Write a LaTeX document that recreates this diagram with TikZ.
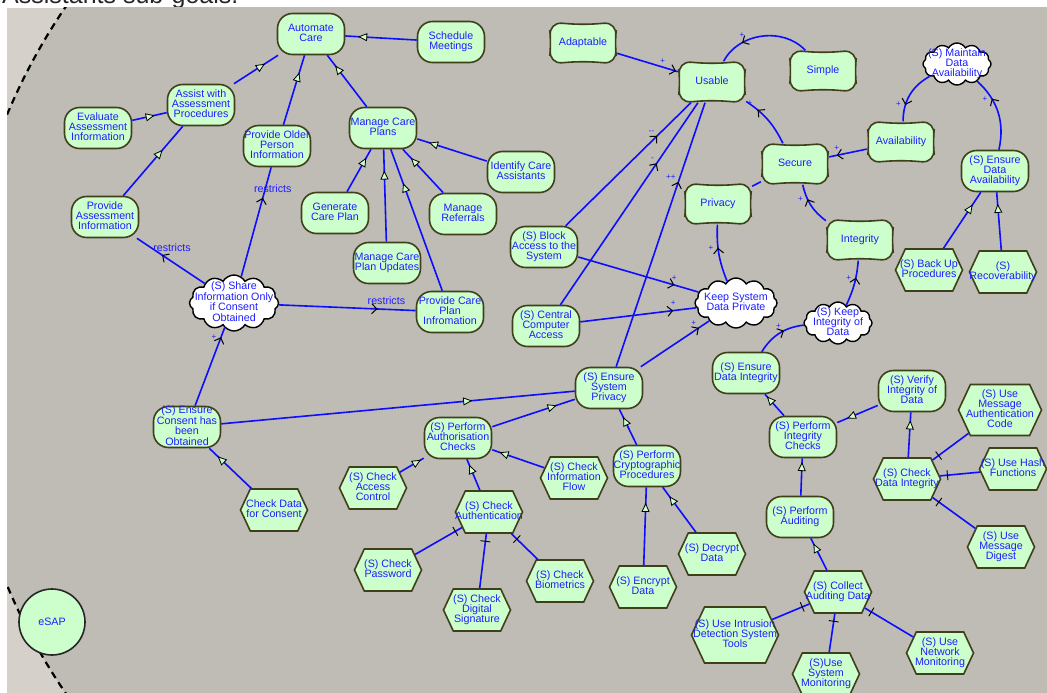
\documentclass[tikz,border=0pt]{standalone}
\usepackage{fontspec}
\setmainfont{Liberation Sans}
\usetikzlibrary{arrows.meta,shapes.symbols,decorations.markings,backgrounds}

\definecolor{panelgrey}{HTML}{BFBBB5}
\definecolor{outsidegrey}{HTML}{D5D1CA}
\definecolor{goalfill}{HTML}{CCFFCC}
\definecolor{goalline}{HTML}{3F3F1A}
\definecolor{linkblue}{HTML}{0D0DFF}
\definecolor{textblue}{HTML}{1E1EFF}

\newcommand{\elemfont}{\fontsize{10.7}{8.9}\selectfont}
\newcommand{\signfont}{\fontsize{8}{9}\selectfont}
% text of an element, centred and not widening the shape
\newcommand{\elemtext}[1]{\raisebox{-5.4pt}{\smash{\makebox[0pt]{\begin{tabular}{@{}c@{}}#1\end{tabular}}}}}

\tikzset{
	metri/.tip={Triangle[length=9pt,width=8pt,color=black,fill=goalfill,line width=0.8pt]},
	dbar/.tip={Bar[width=10pt,color=black,line width=0.9pt]},
	cbarb/.tip={Straight Barb[length=5pt,width=10pt,color=black,line width=1pt]},
	element/.style={draw=goalline, line width=1.6pt, fill=goalfill, inner sep=1pt, font=\elemfont, text=textblue},
	goal/.style={element, rectangle, rounded corners=15pt, minimum width=67pt, minimum height=41pt},
	task/.style={element, signal, signal to=east and west, signal pointer angle=130, minimum width=67pt, minimum height=42pt},
	softgoal/.style={rectangle, inner sep=1pt, minimum width=68pt, minimum height=41pt, font=\elemfont, text=textblue},
	sgframe/.style={draw=goalline, line width=1.6pt, fill=goalfill, rounded corners=13pt},
	cloudgoal/.style={cloud, cloud puffs=12, cloud puff arc=120, cloud ignores aspect, draw=black, line width=1.4pt, fill=white, inner sep=1pt, minimum width=68pt, minimum height=42pt, font=\elemfont, text=textblue},
	actor/.style={circle, draw=black!85, line width=1.6pt, fill=goalfill, minimum size=66pt, font=\elemfont, text=textblue},
	link/.style={draw=linkblue, line width=1.6pt},
	meansend/.style={link, postaction={decorate, decoration={markings, mark=at position #1 with {\arrow{metri}}}}},
	meansend/.default=0.8,
	decomp/.style={link, postaction={decorate, decoration={markings, mark=at position 8pt with {\arrow{dbar}}}}},
	contrib/.style={link, postaction={decorate, decoration={markings, mark=at position #1 with {\arrow{cbarb}}}}},
	contrib/.default=0.95,
	sign/.style={font=\signfont, text=textblue, inner sep=1pt},
	restricts/.style={font=\elemfont, text=textblue, inner sep=1pt},
}

\begin{document}
\begin{tikzpicture}[x=1pt, y=-1pt]
\useasboundingbox (0,0) rectangle (1047,693);

% canvas and actor boundary
\begin{scope}[on background layer]
	\node[anchor=base west, inner sep=0pt, font=\fontsize{25}{30}\selectfont, text=black!85] (caption) at (2,4) {Assistants sub-goals.};
	\fill[outsidegrey] (7,8) rectangle (1047,693);
	\begin{scope}
		\clip (7,8) rectangle (1047,693);
		\fill[panelgrey] (570,350) circle[radius=610pt];
		\draw[black, line width=2.2pt, dash pattern=on 7pt off 5pt] (570,350) circle[radius=610pt];
	\end{scope}
\end{scope}

\node[actor] (esap) at (52,622) {eSAP};

% goals
\node[goal] (automate) at (311,34) {\elemtext{Automate\\Care}};
\node[goal] (schedule) at (451,42) {\elemtext{Schedule\\Meetings}};
\node[goal] (assist) at (201,105) {\elemtext{Assist with\\Assessment\\Procedures}};
\node[goal] (evaluate) at (98,128) {\elemtext{Evaluate\\Assessment\\Information}};
\node[goal] (olderinfo) at (277,146) {\elemtext{Provide Older\\Person\\Information}};
\node[goal] (manageplans) at (383,128) {\elemtext{Manage Care\\Plans}};
\node[goal] (identify) at (521,172) {\elemtext{Identify Care\\Assistants}};
\node[goal] (generate) at (335,213) {\elemtext{Generate\\Care Plan}};
\node[goal] (referrals) at (463,214) {\elemtext{Manage\\Referrals}};
\node[goal] (provideassess) at (105,217) {\elemtext{Provide\\Assessment\\Information}};
\node[goal] (planupdates) at (387,263) {\elemtext{Manage Care\\Plan Updates}};
\node[goal] (planinfo) at (450,312) {\elemtext{Provide Care\\Plan\\Infromation}};
\node[goal] (blockaccess) at (544,247) {\elemtext{(S) Block\\Access to the\\System}};
\node[goal] (central) at (546,326) {\elemtext{(S) Central\\Computer\\Access}};
\node[goal] (sysprivacy) at (609,388) {\elemtext{(S) Ensure\\System\\Privacy}};
\node[goal] (authchecks) at (458,438) {\elemtext{(S) Perform\\Authorisation\\Checks}};
\node[goal] (crypto) at (647,466) {\elemtext{(S) Perform\\Cryptographic\\Procedures}};
\node[goal] (consent) at (187,427) {\elemtext{(S) Ensure\\Consent has\\been\\Obtained}};
\node[goal] (dataintegrity) at (746,373) {\elemtext{(S) Ensure\\Data Integrity}};
\node[goal] (intchecks) at (803,437) {\elemtext{(S) Perform\\Integrity\\Checks}};
\node[goal] (verify) at (912,391) {\elemtext{(S) Verify\\Integrity of\\Data}};
\node[goal] (auditing) at (800,517) {\elemtext{(S) Perform\\Auditing}};
\node[goal] (dataavail) at (995,171) {\elemtext{(S) Ensure\\Data\\Availability}};

% softgoals
\node[softgoal] (adaptable) at (583,43) {\elemtext{Adaptable}};
\node[softgoal] (usable) at (712,82) {\elemtext{Usable}};
\node[softgoal] (simple) at (823,71) {\elemtext{Simple}};
\node[softgoal] (secure) at (795,164) {\elemtext{Secure}};
\node[softgoal] (privacy) at (718,204) {\elemtext{Privacy}};
\node[softgoal] (availability) at (901,142) {\elemtext{Availability}};
\node[softgoal] (integrity) at (860,240) {\elemtext{Integrity}};

% clouds
\node[cloudgoal] (maintain) at (957,64) {\elemtext{(S) Maintain\\Data\\Availability}};
\node[cloudgoal, minimum width=89pt, minimum height=56pt] (share) at (234,303) {\elemtext{(S) Share\\Information Only\\if Consent\\Obtained}};
\node[cloudgoal, minimum width=82pt, minimum height=50pt] (keepprivate) at (736,303) {\elemtext{Keep System\\Data Private}};
\node[cloudgoal] (keepintegrity) at (838,323) {\elemtext{(S) Keep\\Integrity of\\Data}};

% tasks
\node[task] (checkconsent) at (274,510) {\elemtext{Check Data\\for Consent}};
\node[task] (accessctrl) at (373,488) {\elemtext{(S) Check\\Access\\Control}};
\node[task] (authentication) at (489,512) {\elemtext{(S) Check\\Authentication}};
\node[task] (infoflow) at (574,478) {\elemtext{(S) Check\\Information\\Flow}};
\node[task] (password) at (388,570) {\elemtext{(S) Check\\Password}};
\node[task] (signature) at (477,610) {\elemtext{(S) Check\\Digital\\Signature}};
\node[task] (biometrics) at (560,581) {\elemtext{(S) Check\\Biometrics}};
\node[task] (encrypt) at (643,587) {\elemtext{(S) Encrypt\\Data}};
\node[task] (decrypt) at (712,554) {\elemtext{(S) Decrypt\\Data}};
\node[task] (backup) at (929,270) {\elemtext{(S) Back Up\\Procedures}};
\node[task] (recover) at (1003,272) {\elemtext{(S)\\Recoverability}};
\node[task, minimum width=83pt, minimum height=51pt] (mac) at (1000,410) {\elemtext{(S) Use\\Message\\Authentication\\Code}};
\node[task] (hash) at (1013,469) {\elemtext{(S) Use Hash\\Functions}};
\node[task] (checkintegrity) at (907,479) {\elemtext{(S) Check\\Data Integrity}};
\node[task] (digest) at (1001,547) {\elemtext{(S) Use\\Message\\Digest}};
\node[task] (collect) at (838,592) {\elemtext{(S) Collect\\Auditing Data}};
\node[task, minimum width=87pt, minimum height=56pt] (intrusion) at (735,635) {\elemtext{(S) Use Intrusion\\Detection System\\Tools}};
\node[task] (sysmonitor) at (826,674) {\elemtext{(S)Use\\System\\Monitoring}};
\node[task] (netmonitor) at (940,653) {\elemtext{(S) Use\\Network\\Monitoring}};

% wavy outlines of the softgoals
\begin{scope}[on background layer]
	\foreach \sg in {adaptable,usable,simple,secure,privacy,availability,integrity}
		\draw[sgframe] (\sg.north west) -- ([yshift=-2.5pt]\sg.north) -- (\sg.north east) -- ([xshift=-2.5pt]\sg.east) -- (\sg.south east) -- ([yshift=2.5pt]\sg.south) -- (\sg.south west) -- ([xshift=2.5pt]\sg.west) -- cycle;
\end{scope}

% means-end links
\draw[meansend=0.82] (schedule) -- (automate);
\draw[meansend=0.7] (assist) -- (automate);
\draw[meansend=0.75] (olderinfo) -- (automate);
\draw[meansend] (manageplans) -- (automate);
\draw[meansend=0.65] (evaluate) -- (assist);
\draw[meansend=0.66] (provideassess) -- (assist);
\draw[meansend] (generate) -- (manageplans);
\draw[meansend=0.77] (planupdates) -- (manageplans);
\draw[meansend=0.76] (planinfo) -- (manageplans);
\draw[meansend] (referrals) -- (manageplans);
\draw[meansend=0.83] (identify) -- (manageplans);
\draw[meansend=0.78] (backup) -- (dataavail);
\draw[meansend=0.8] (recover) -- (dataavail);
\draw[meansend=0.71] (consent) -- (sysprivacy);
\draw[meansend] (checkconsent) -- (consent);
\draw[meansend=0.78] (authchecks) -- (sysprivacy);
\draw[meansend=0.78] (crypto) -- (sysprivacy);
\draw[meansend=0.88] (accessctrl) -- (authchecks);
\draw[meansend=0.82] (authentication) -- (authchecks);
\draw[meansend=0.86] (infoflow) -- (authchecks);
\draw[meansend=0.8] (encrypt) -- (crypto);
\draw[meansend] (decrypt) -- (crypto);
\draw[meansend=0.9] (intchecks) -- (dataintegrity);
\draw[meansend=0.76] (verify) -- (intchecks);
\draw[meansend=0.82] (checkintegrity) -- (verify);
\draw[meansend=0.9] (auditing) -- (intchecks);
\draw[meansend=0.83] (collect) -- (auditing);

% decompositions
\draw[decomp] (authentication) -- (password);
\draw[decomp] (authentication) -- (signature);
\draw[decomp] (authentication) -- (biometrics);
\draw[decomp] (checkintegrity) -- (mac);
\draw[decomp] (checkintegrity) -- (hash);
\draw[decomp] (checkintegrity) -- (digest);
\draw[decomp] (collect) -- (intrusion);
\draw[decomp] (collect) -- (sysmonitor);
\draw[decomp] (collect) -- (netmonitor);

% contributions
\draw[contrib=0.97] (adaptable) -- node[sign, pos=0.75, above=2pt] {+} (usable);
\draw[contrib=0.72] (simple) to[bend right=55] node[sign, pos=0.72, above=3pt] {+} (usable);
\draw[contrib=0.75] (secure) to[bend right=15] node[sign, pos=0.82, above left=1pt] {+} (usable);
\draw[link] (privacy) -- (secure);
\draw[contrib=0.8] (availability) -- node[sign, pos=0.8, above=3pt] {+} (secure);
\draw[contrib=0.65] (integrity) to[bend left=20] node[sign, pos=0.65, left=3pt] {+} (secure);
\draw[contrib=0.7] (maintain) to[bend right=30] node[sign, pos=0.7, left=3pt] {+} (availability);
\draw[contrib=0.7] (dataavail) to[bend right=30] node[sign, pos=0.7, left=3pt] {+} (maintain);
\draw[contrib=0.63] (keepintegrity) to[bend right=10] node[sign, pos=0.63, left=3pt] {+} (integrity);
\draw[contrib=0.6] (dataintegrity) to[bend left=25] node[sign, pos=0.6, above left=1pt] {+} (keepintegrity);
\draw[contrib=0.6] (keepprivate) to[bend left=12] node[sign, pos=0.6, left=3pt] {+} (privacy);
\draw[contrib=0.8] (blockaccess) -- node[sign, pos=0.8, above=3pt] {+} (keepprivate);
\draw[contrib=0.8] (central) -- node[sign, pos=0.8, above=3pt] {+} (keepprivate);
\draw[contrib=0.85] (sysprivacy) -- node[sign, pos=0.85, above left=1pt] {+} (keepprivate);
\draw[contrib=0.73] (blockaccess) -- node[sign, pos=0.73, above left=1pt] {-{}-} (usable);
\draw[contrib=0.7] (central) -- node[sign, pos=0.7, above left=1pt] {-} (usable);
\draw[contrib=0.7] (sysprivacy) -- node[sign, pos=0.7, above left=1pt] {++} (usable);
\draw[contrib=0.88] (consent) -- node[sign, pos=0.88, left=3pt] {+} (share);
\draw[contrib=0.63] (share) -- node[restricts, pos=0.63, above=2pt, xshift=10pt] {restricts} (provideassess);
\draw[contrib=0.72] (share) -- node[restricts, pos=0.72, above=3pt, xshift=10pt] {restricts} (olderinfo);
\draw[contrib=0.72] (share) -- node[restricts, pos=0.72, above=3pt, xshift=9pt] {restricts} (planinfo);
\end{tikzpicture}
\end{document}
